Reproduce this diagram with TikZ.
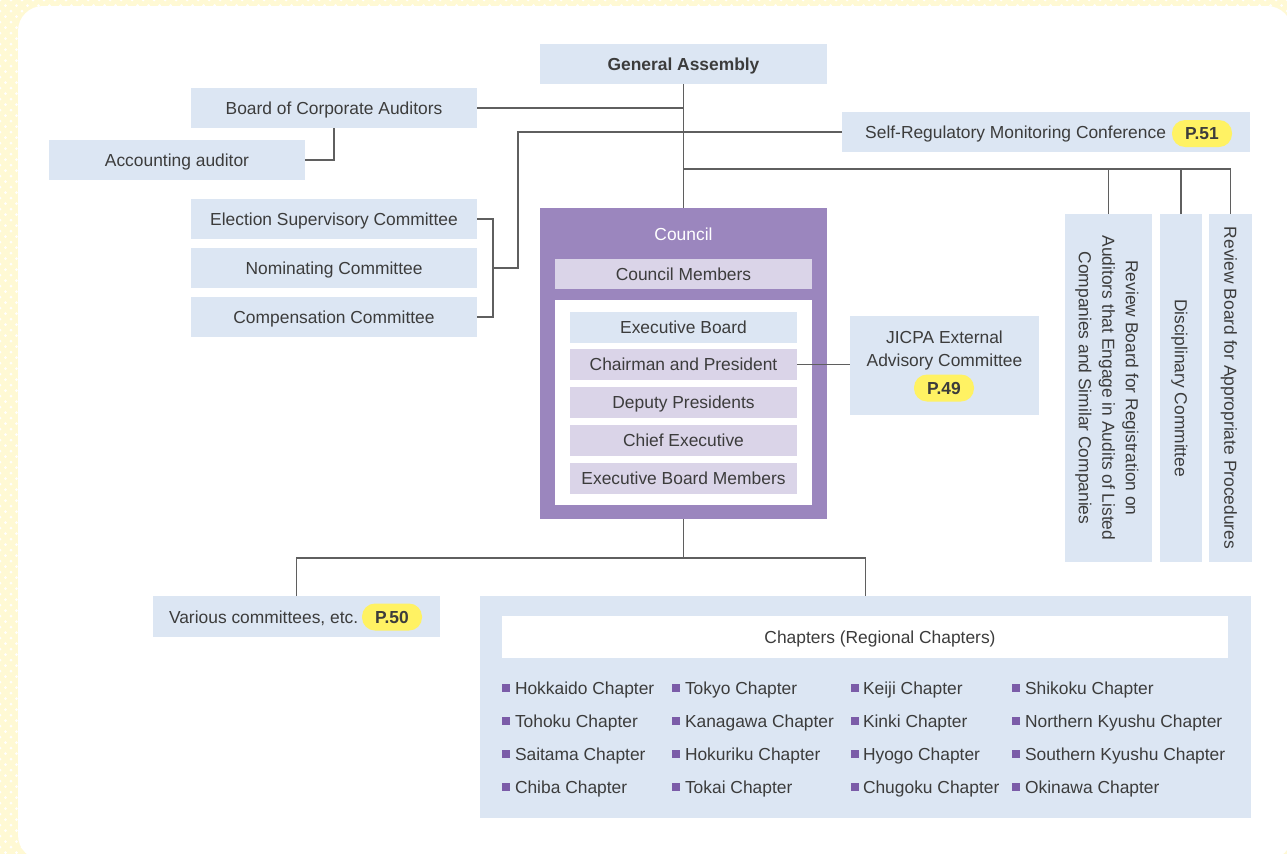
\documentclass[tikz,border=0pt]{standalone}
\usepackage{fontspec}
\setmainfont{Liberation Sans}
\newcommand\fs{\fontsize{17.4}{23}\selectfont}
\newcommand\fsb{\fontsize{17.4}{23}\selectfont\bfseries}
\definecolor{paleblue}{RGB}{220,230,243}
\definecolor{councilpurple}{RGB}{155,134,190}
\definecolor{lavender}{RGB}{218,212,232}
\definecolor{inktext}{RGB}{60,60,60}
\definecolor{badgeyellow}{RGB}{255,242,99}
\definecolor{bulletpurple}{RGB}{123,92,168}
\definecolor{creamy}{RGB}{255,249,212}
\definecolor{linkgray}{RGB}{95,95,95}
\tikzset{
  base/.style={inner sep=0pt, outer sep=0pt, text=inktext, font=\fs,
    text height=12.5pt, text depth=0pt},
  bluebox/.style={base, fill=paleblue},
  lavbox/.style={base, fill=lavender},
  badge/.style={base, fill=badgeyellow, rounded corners=13pt,
    minimum width=60pt, minimum height=27pt, font=\fsb},
  link/.style={draw=linkgray, line width=1.3pt},
  sqmark/.style={fill=bulletpurple, minimum size=8.5pt, inner sep=0pt, outer sep=0pt},
  chap/.style={base, anchor=west},
  vtext/.style={base, rotate=-90},
}
\begin{document}
\begin{tikzpicture}[x=1pt,y=-1pt]
\useasboundingbox (0,0) rectangle (1287,854);
% cream dotted backdrop and white sheet
\fill[creamy] (0,0) rectangle (1287,854);
\begin{scope}[white]
  \foreach \j in {0,...,78} {
    \foreach \i in {0,1,2,3,113,114,115,116,117} {
      \fill (\i*11,\j*11) circle (1.5);
      \fill (\i*11+5.5,\j*11+5.5) circle (1.5);
    }
  }
  \foreach \i in {4,...,112} {
    \foreach \j in {0,1,76,77,78} {
      \fill (\i*11,\j*11) circle (1.5);
      \fill (\i*11+5.5,\j*11+5.5) circle (1.5);
    }
  }
\end{scope}
\fill[white, rounded corners=25pt] (18,6) rectangle (1292,860);

% top level
\node[bluebox, minimum width=287pt, minimum height=40pt, font=\fsb] (ga) at (683.5,64) {General Assembly};
\node[bluebox, minimum width=286pt, minimum height=40pt] (bca) at (334,108) {Board of Corporate Auditors};
\node[bluebox, minimum width=256pt, minimum height=40pt] (aa) at (177,160) {Accounting auditor};
\node[bluebox, minimum width=408pt, minimum height=40pt] (srmc) at (1046,132) {};
\node[base, anchor=east] (srmct) at (1166,132) {Self-Regulatory Monitoring Conference};
\node[badge] (p51) at (1202,133.5) {P.51};

% committees on the left
\node[bluebox, minimum width=286pt, minimum height=40pt] (esc) at (334,219) {Election Supervisory Committee};
\node[bluebox, minimum width=286pt, minimum height=40pt] (nc) at (334,268) {Nominating Committee};
\node[bluebox, minimum width=286pt, minimum height=40pt] (cc) at (334,317) {Compensation Committee};

% council block
\node[fill=councilpurple, inner sep=0pt, outer sep=0pt, minimum width=287pt, minimum height=311pt] (council) at (683.5,363.5) {};
\node[base, text=white] (councilt) at (683.5,234) {Council};
\node[lavbox, minimum width=257pt, minimum height=30pt] (cm) at (683.5,274) {Council Members};
\node[fill=white, inner sep=0pt, minimum width=257pt, minimum height=205pt] (inner) at (683.5,402.5) {};
\node[bluebox, minimum width=227pt, minimum height=31pt] (eb) at (683.5,327.5) {Executive Board};
\node[lavbox, minimum width=227pt, minimum height=31pt] (cp) at (683.5,364.5) {Chairman and President};
\node[lavbox, minimum width=227pt, minimum height=31pt] (dp) at (683.5,402.5) {Deputy Presidents};
\node[lavbox, minimum width=227pt, minimum height=31pt] (ce) at (683.5,440.5) {Chief Executive};
\node[lavbox, minimum width=227pt, minimum height=31pt] (ebm) at (683.5,478.5) {Executive Board Members};

% external advisory committee
\node[bluebox, minimum width=189pt, minimum height=99pt] (jicpa) at (944.5,365.5) {};
\node[base] (jicpa1) at (944.5,337) {JICPA External};
\node[base] (jicpa2) at (944.5,360) {Advisory Committee};
\node[badge] (p49) at (944,388) {P.49};

% vertical boards on the right
\node[bluebox, minimum width=87pt, minimum height=348pt] (v1) at (1108.5,388) {};
\node[bluebox, minimum width=42pt, minimum height=348pt] (v2) at (1181,388) {};
\node[bluebox, minimum width=43pt, minimum height=348pt] (v3) at (1230.5,388) {};
\node[vtext] (v1a) at (1132,388) {Review Board for Registration on};
\node[vtext] (v1b) at (1108.5,388) {Auditors that Engage in Audits of Listed};
\node[vtext] (v1c) at (1085,388) {Companies and Similar Companies};
\node[vtext] (v2t) at (1181,388) {Disciplinary Committee};
\node[vtext] (v3t) at (1230.5,388) {Review Board for Appropriate Procedures};

% lower blocks
\node[bluebox, minimum width=287pt, minimum height=41pt] (vc) at (296.5,616.5) {};
\node[base, anchor=west] (vct) at (169,617) {Various committees, etc.};
\node[badge] (p50) at (392,617) {P.50};

\node[bluebox, minimum width=771pt, minimum height=222pt] (chap) at (865.5,707) {};
\node[base, fill=white, minimum width=726pt, minimum height=42pt] (chaph) at (865,637) {};
\node[base] (chapht) at (880,637) {Chapters (Regional Chapters)};

% chapter list
\foreach \name [count=\k from 0] in {Hokkaido,Tohoku,Saitama,Chiba} {
  \node[sqmark] (m1-\k) at (506,688+\k*33) {};
  \node[chap] (c1-\k) at (515,688+\k*33) {\name{} Chapter};
}
\foreach \name [count=\k from 0] in {Tokyo,Kanagawa,Hokuriku,Tokai} {
  \node[sqmark] (m2-\k) at (676,688+\k*33) {};
  \node[chap] (c2-\k) at (685,688+\k*33) {\name{} Chapter};
}
\foreach \name [count=\k from 0] in {Keiji,Kinki,Hyogo,Chugoku} {
  \node[sqmark] (m3-\k) at (855,688+\k*33) {};
  \node[chap] (c3-\k) at (863,688+\k*33) {\name{} Chapter};
}
\foreach \name [count=\k from 0] in {Shikoku,Northern Kyushu,Southern Kyushu,Okinawa} {
  \node[sqmark] (m4-\k) at (1016,688+\k*33) {};
  \node[chap] (c4-\k) at (1025,688+\k*33) {\name{} Chapter};
}

% connectors
\coordinate (sj) at (518,268);
\coordinate (bk) at (493,268);
\coordinate (rb) at (683.5,169);
\coordinate (cb) at (683.5,558);
\draw[link] (ga.south) -- (council.north);
\draw[link] (bca.east) -- (bca.east -| ga.south);
\draw[link] (bca.south) |- (aa.east);
\draw[link] (srmc.west) -| (sj) -- (bk);
\draw[link] (esc.east) -| (bk) |- (cc.east);
\draw[link] (rb) -| (v3.north);
\draw[link] (v1.north) -- (v1.north |- rb);
\draw[link] (v2.north) -- (v2.north |- rb);
\draw[link] (cp.east) -- (cp.east -| jicpa.west);
\draw[link] (council.south) -- (cb);
\draw[link] (vc.north) |- (cb) -| (chap.north);
\end{tikzpicture}
\end{document}
